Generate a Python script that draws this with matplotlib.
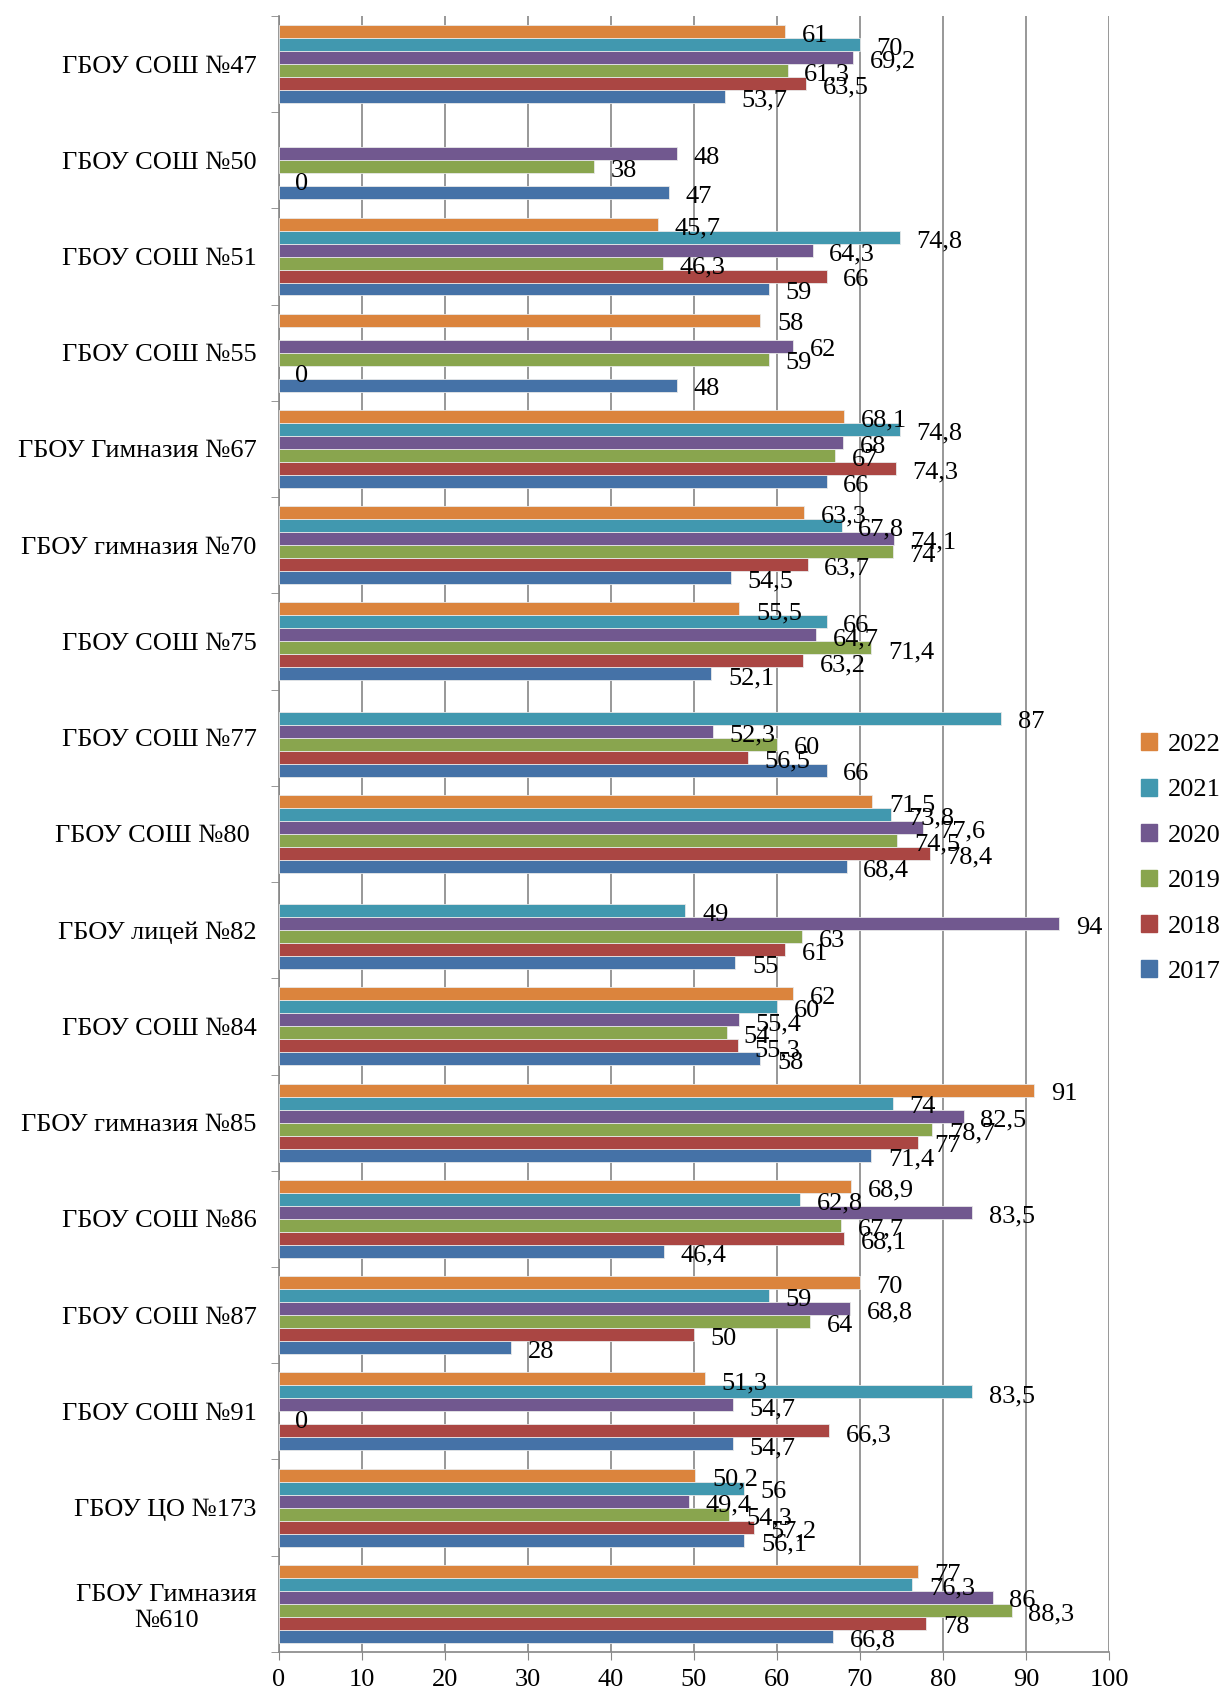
import numpy as np
import matplotlib.pyplot as plt
from matplotlib.patches import Patch

plt.rcParams['font.family'] = ['Liberation Serif', 'DejaVu Serif']

schools = ["ГБОУ СОШ №47", "ГБОУ СОШ №50", "ГБОУ СОШ №51", "ГБОУ СОШ №55",
           "ГБОУ Гимназия №67", "ГБОУ гимназия №70", "ГБОУ СОШ №75", "ГБОУ СОШ №77",
           "ГБОУ СОШ №80 ", "ГБОУ лицей №82", "ГБОУ СОШ №84", "ГБОУ гимназия №85",
           "ГБОУ СОШ №86", "ГБОУ СОШ №87", "ГБОУ СОШ №91", "ГБОУ ЦО №173",
           "ГБОУ Гимназия\n№610"]

years = ["2017", "2018", "2019", "2020", "2021", "2022"]

# None = no bar, no label
v2017 = [53.7, 47, 59, 48, 66, 54.5, 52.1, 66, 68.4, 55, 58, 71.4, 46.4, 28, 54.7, 56.1, 66.8]
v2018 = [63.5, 0, 66, 0, 74.3, 63.7, 63.2, 56.5, 78.4, 61, 55.3, 77, 68.1, 50, 66.3, 57.2, 78]
v2019 = [61.3, 38, 46.3, 59, 67, 74, 71.4, 60, 74.5, 63, 54, 78.7, 67.7, 64, 0, 54.3, 88.3]
v2020 = [69.2, 48, 64.3, 62, 68, 74.1, 64.7, 52.3, 77.6, 94, 55.4, 82.5, 83.5, 68.8, 54.7, 49.4, 86]
v2021 = [70, None, 74.8, None, 74.8, 67.8, 66, 87, 73.8, 49, 60, 74, 62.8, 59, 83.5, 56, 76.3]
v2022 = [61, None, 45.7, 58, 68.1, 63.3, 55.5, None, 71.5, None, 62, 91, 68.9, 70, 51.3, 50.2, 77]

series = [v2017, v2018, v2019, v2020, v2021, v2022]
colors = ["#4572A7", "#AA4643", "#89A54E", "#71588F", "#4198AF", "#DB843D"]

fig = plt.figure(figsize=(12.22, 16.96), dpi=100)
ax = fig.add_axes([0.228, 0.026, 0.6795, 0.9646])

h = 0.135
y = np.arange(len(schools))
fs = 19

for j, vals in enumerate(series):
    off = (2.5 - j) * h
    for i, v in enumerate(vals):
        if v is None:
            continue
        yy = y[i] + off
        if v > 0:
            ax.barh(yy, v, height=h, color=colors[j], edgecolor="#e8e8e8", linewidth=0.6, zorder=3)
        txt = ("%g" % v).replace(".", ",")
        ax.annotate(txt, (v, yy), xytext=(12, -3), textcoords="offset points",
                    ha="left", va="center", fontsize=fs, zorder=4)

ax.set_xlim(0, 100)
ax.set_ylim(len(schools) - 0.5, -0.5)
ax.set_xticks(np.arange(0, 101, 10))
ax.tick_params(axis="x", labelsize=fs, length=6, color="#868686", direction="out", pad=6)
ax.set_yticks(y)
ax.set_yticklabels(schools, fontsize=fs, multialignment="center")
ax.tick_params(axis="y", length=0, pad=16)
ax.set_yticks(np.arange(-0.5, len(schools)), minor=True)
ax.tick_params(axis="y", which="minor", length=6, color="#868686", direction="out")

ax.grid(axis="x", color="#868686", linewidth=1.2, zorder=0)
for s in ["top", "right"]:
    ax.spines[s].set_visible(False)
for s in ["left", "bottom"]:
    ax.spines[s].set_color("#868686")
    ax.spines[s].set_linewidth(1.2)

handles = [Patch(color=colors[j], label=years[j]) for j in range(5, -1, -1)]
fig.legend(handles=handles, loc="center left", bbox_to_anchor=(0.934, 0.494),
           frameon=False, fontsize=fs, handlelength=0.6, handleheight=0.6,
           handletextpad=0.4, labelspacing=0.86, borderaxespad=0, borderpad=0)

fig.savefig("out.png", dpi=100)
